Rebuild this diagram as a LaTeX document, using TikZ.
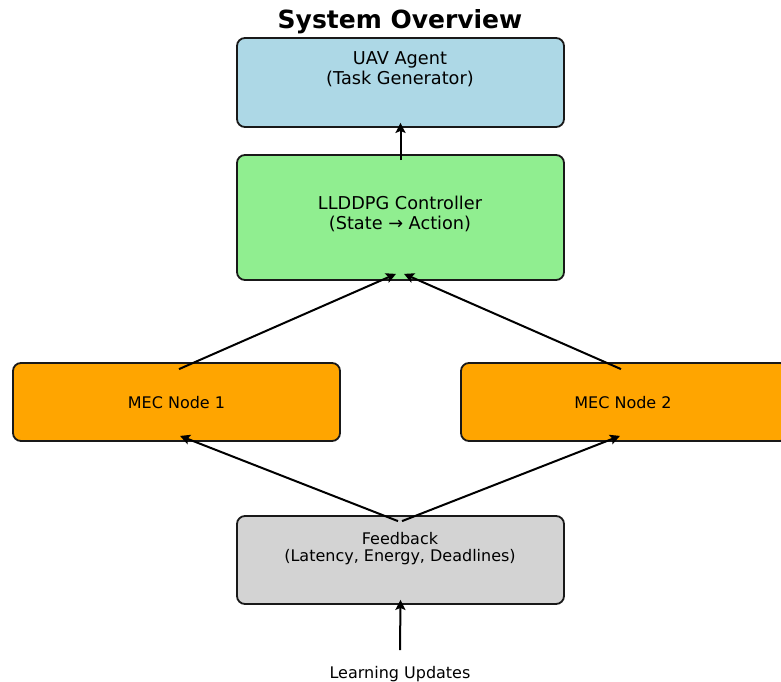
\documentclass[tikz,border=0pt]{standalone}
\usepackage{fontspec}
\setmainfont{DejaVu Sans}
\usetikzlibrary{arrows.meta}
\definecolor{uavblue}{HTML}{ADD8E6}
\definecolor{ctrlgreen}{HTML}{90EE90}
\definecolor{mecorange}{HTML}{FFA500}
\definecolor{fbgrey}{HTML}{D3D3D3}
\tikzset{
  box/.style={draw=black!90, line width=1.8pt, rounded corners=8pt, inner sep=0pt, minimum width=327pt},
  bigtext/.style={font=\fontsize{17.7}{19.5}\selectfont, align=center, inner sep=0pt},
  smalltext/.style={font=\fontsize{16}{17}\selectfont, align=center, inner sep=0pt},
  flow/.style={line width=2pt, -{Stealth[length=10pt,width=10pt,inset=2pt]}}
}
\begin{document}
\begin{tikzpicture}[x=1pt,y=-1pt]
  \useasboundingbox (0,0) rectangle (781,681);
  \clip (0,0) rectangle (781,681);
  \fill[white] (0,0) rectangle (781,681);

  % title
  \node[font=\fontsize{25}{27}\selectfont\bfseries, inner sep=0pt] (title) at (400,22) {System Overview};

  % boxes
  \node[box, fill=uavblue, minimum height=89pt] (uav) at (400.5,82.5) {};
  \node[box, fill=ctrlgreen, minimum height=125pt] (ctrl) at (400.5,217.5) {};
  \node[box, fill=mecorange, minimum height=78pt] (mec1) at (176.5,402) {};
  \node[box, fill=mecorange, minimum height=78pt] (mec2) at (624.5,402) {};
  \node[box, fill=fbgrey, minimum height=88pt] (fb) at (400.5,560) {};

  % box texts
  \node[bigtext] (uavtxt) at (400,69) {UAV Agent\\(Task Generator)};
  \node[bigtext] (ctrltxt) at (400,214) {LLDDPG Controller\\(State → Action)};
  \node[smalltext] (mec1txt) at (176.5,403) {MEC Node 1};
  \node[smalltext] (mec2txt) at (623,403) {MEC Node 2};
  \node[smalltext] (fbtxt) at (400,548.5) {Feedback\\(Latency, Energy, Deadlines)};
  \node[smalltext] (learn) at (400,674) {Learning Updates};

  % connectors
  \draw[flow] ([shift={(0,6)}]ctrl.north) -- ([shift={(0,-5)}]uav.south);
  \draw[flow] ([shift={(2.5,7)}]mec1.north) -- ([shift={(-4.5,-7)}]ctrl.south);
  \draw[flow] ([shift={(-3.5,7)}]mec2.north) -- ([shift={(3.5,-7)}]ctrl.south);
  \draw[flow] ([shift={(-2.5,6)}]fb.north) -- ([shift={(3.5,-6)}]mec1.south);
  \draw[flow] ([shift={(1.5,6)}]fb.north) -- ([shift={(-4.5,-6)}]mec2.south);
  \draw[flow] ([shift={(0,-16)}]learn.north) -- ([shift={(0,-5)}]fb.south);
\end{tikzpicture}
\end{document}
